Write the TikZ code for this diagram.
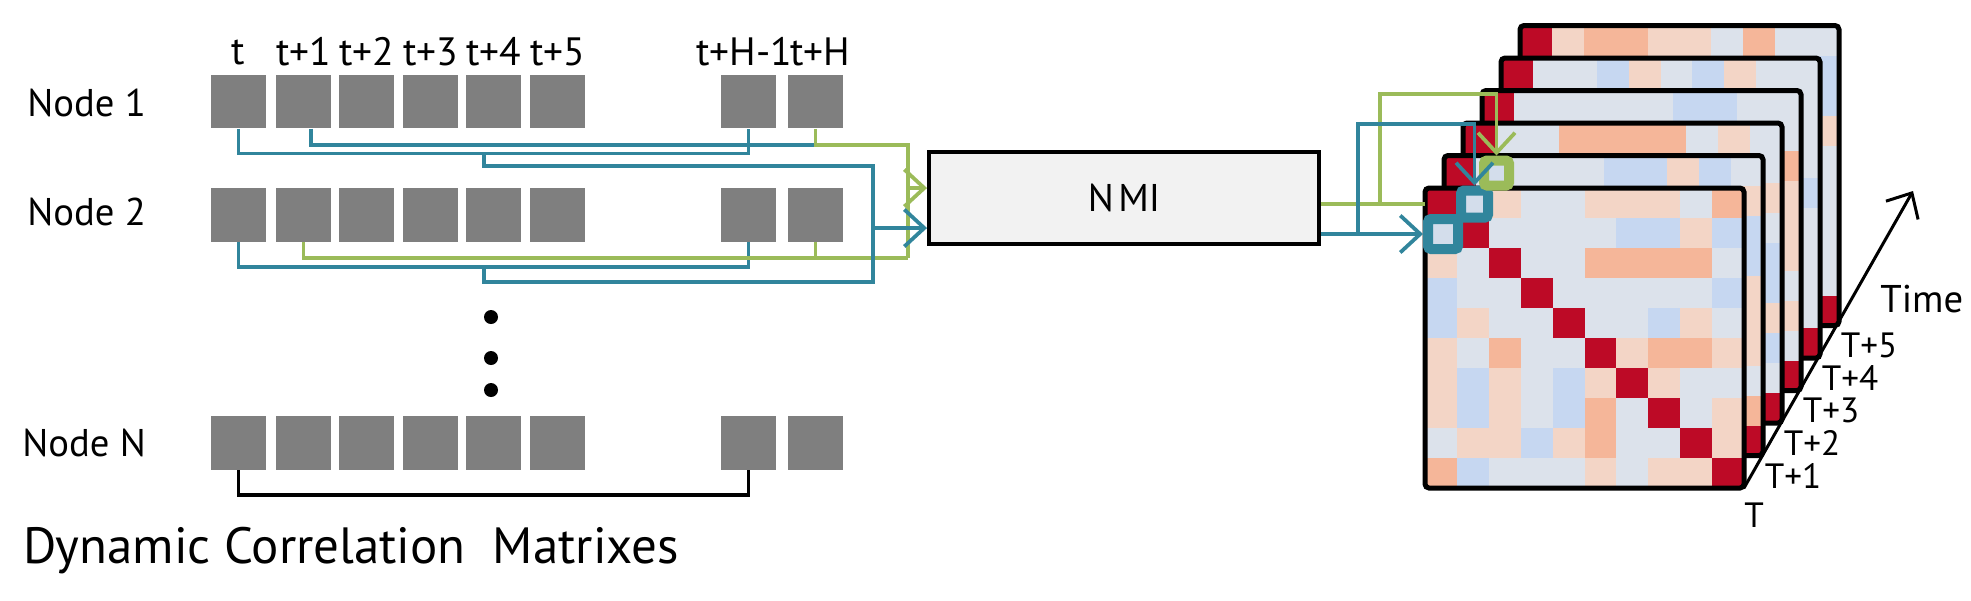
\documentclass[tikz,border=0pt]{standalone}
\usepackage{fontspec}
\setmainfont{PT Sans}
\usetikzlibrary{arrows.meta,positioning}
\definecolor{tealc}{HTML}{31859C}
\definecolor{olivec}{HTML}{9BBB59}
\definecolor{boxgray}{HTML}{7F7F7F}
\definecolor{nmifill}{HTML}{F2F2F2}
\definecolor{hlfill}{HTML}{D3DDEB}
\definecolor{hm0}{HTML}{DCE2EB}
\definecolor{hm1}{HTML}{C6D7F1}
\definecolor{hm2}{HTML}{F3D5C6}
\definecolor{hm3}{HTML}{F5B699}
\definecolor{hm4}{HTML}{BD0A26}
\definecolor{hm5}{HTML}{A9C6F2}
\tikzset{
  cell/.style={fill=boxgray, minimum width=1.1cm, minimum height=1.07cm, inner sep=0},
  tlab/.style={font=\fontsize{22.5}{24}\selectfont, inner sep=0},
  rowlab/.style={font=\fontsize{22}{24}\selectfont, inner sep=0, anchor=west},
  Tlab/.style={font=\fontsize{20}{22}\selectfont, inner sep=0},
  titlelab/.style={font=\fontsize{29}{32}\selectfont, inner sep=0, anchor=west},
  tline/.style={draw=tealc, line width=0.75mm},
  gline/.style={draw=olivec, line width=0.75mm},
  bline/.style={draw=black, line width=0.75mm},
  barb/.style={-{Straight Barb[length=4mm,width=7.4mm]}},
  nmibox/.style={draw=black, fill=nmifill, line width=0.8mm, minimum width=7.8cm, minimum height=1.84cm, font=\fontsize{22}{24}\selectfont},
  mframe/.style={draw=black, line width=1mm, rounded corners=0.8mm},
  hlt/.style={draw=tealc, fill=hlfill, line width=2mm, rounded corners=0.6mm, inner sep=0},
  hlg/.style={hlt, draw=olivec},
  vdot/.style={circle, fill=black, minimum size=0.28cm, inner sep=0}
}
\def\hm{{4,0,2,0,0,2,2,2,0,3,
         0,4,0,0,0,0,1,1,2,1,
         2,0,4,0,0,3,3,3,3,0,
         1,0,0,4,0,0,0,0,0,1,
         1,2,0,0,4,0,0,1,2,0,
         2,0,3,0,0,4,2,3,3,2,
         2,1,2,0,1,2,4,2,0,0,
         2,1,2,0,1,3,0,4,0,2,
         0,2,2,1,2,3,0,0,4,2,
         3,1,0,0,0,2,0,2,2,4}}
\begin{document}
\begin{tikzpicture}[x=0.02cm,y=-0.02cm]
\useasboundingbox (0,0) rectangle (1971,600);

\foreach \x/\lab [count=\i] in {238.5/t,303.5/t+1,366.5/t+2,430.5/t+3,493.5/t+4,557.5/t+5,744/t+H-1,820/t+H}
  \node[tlab] (lab\i) at (\x,52) {\lab};

\foreach \x [count=\i] in {238.5,303.5,366.5,430.5,493.5,557.5,748.5,815.5}{
  \node[cell] (a\i) at (\x,101.5) {};
  \node[cell] (b\i) at (\x,215) {};
  \node[cell] (z\i) at (\x,443) {};
}
\node[rowlab] (row1) at (27,103) {Node 1};
\node[rowlab] (row2) at (27,212) {Node 2};
\node[rowlab] (rowN) at (22,443) {Node N};

\foreach \y [count=\i] in {317,358,390}
  \node[vdot] (dot\i) at (491,\y) {};

\coordinate (ga) at (908,145);
\coordinate (gb) at (908,258);
\coordinate (gin) at (908,188);
\coordinate (ma) at (484,153);
\coordinate (mb) at (484,267);
\coordinate (ba) at (873,166);
\coordinate (bb) at (873,282);
\coordinate (bin) at (873,228);

\draw[tline] (a1.south) -- ++(0,25) -| (a7.south);
\draw[tline] ([xshift=1.5mm]a2.south) |- (a8.south |- ga);
\draw[gline] (a8.south) |- (ga) -- (gb);
\draw[tline] (b1.south) -- ++(0,25) -| (b7.south);
\draw[gline] (b2.south) |- (gb);
\draw[gline] (b8.south) -- (b8.south |- gb);
\draw[tline] (ma) |- (ba) -- (bb) -| (mb);
\draw[bline] (z1.south) -- ++(0,25) -| (z7.south);

\node[nmibox] (nmi) at (1124,198) {N\kern0.12em MI};
\draw[gline,barb] (gin) -- (gin -| nmi.west);
\draw[tline,barb] (bin) -- (bin -| nmi.west);

% stacked correlation matrices, back to front
\foreach \k in {5,4,3,2,1,0}{
  \begin{scope}[shift={(19*\k,-32.5*\k)}]
    \foreach \r in {0,...,9}{
      \foreach \c in {0,...,9}{
        \pgfmathtruncatemacro\idx{10*mod(\r+\k,10)+mod(\c+\k,10)}
        \pgfmathtruncatemacro\v{\hm[\idx]}
        \fill[hm\v] (1425+31.9*\c,188+30*\r) rectangle ++(31.9,30);
      }
    }
    \draw[mframe] (1425,188) rectangle (1744,488);
    \coordinate (cor\k) at (1744,488);
  \end{scope}
}

\node[hlt, minimum size=0.6cm] (h1) at (1443,234) {};
\node[hlt, minimum size=0.54cm] (h2) at (1474.5,204) {};
\node[hlg, minimum size=0.5cm] (h3) at (1496.5,173) {};

\coordinate (gj) at (1380,204);
\coordinate (bj) at (1358,234);
\coordinate (gend) at (1425,204);
\draw[gline] (gj -| nmi.east) -- (gend);
\draw[gline,barb] (gj) -- ++(0,-110) -| (h3.north);
\draw[tline,barb] (bj -| nmi.east) -- (h1.west);
\draw[tline,barb] (bj) -- ++(0,-110) -| (h2.north);

\coordinate (tend) at (1913,191);
\draw[bline,line width=0.6mm,barb] (cor0) -- (tend);
\node[Tlab] (T0) at ([shift={(10,27)}]cor0) {T};
\foreach \k in {1,...,5}
  \node[Tlab, anchor=west] (T\k) at ([shift={(1.5,20)}]cor\k) {T+\k};
\node[Tlab, anchor=west, font=\fontsize{22}{24}\selectfont] (time) at (1880,299) {Time};

\node[titlelab] (title) at (23,551) {Dynamic Correlation\ \ Matrixes};
\end{tikzpicture}
\end{document}
